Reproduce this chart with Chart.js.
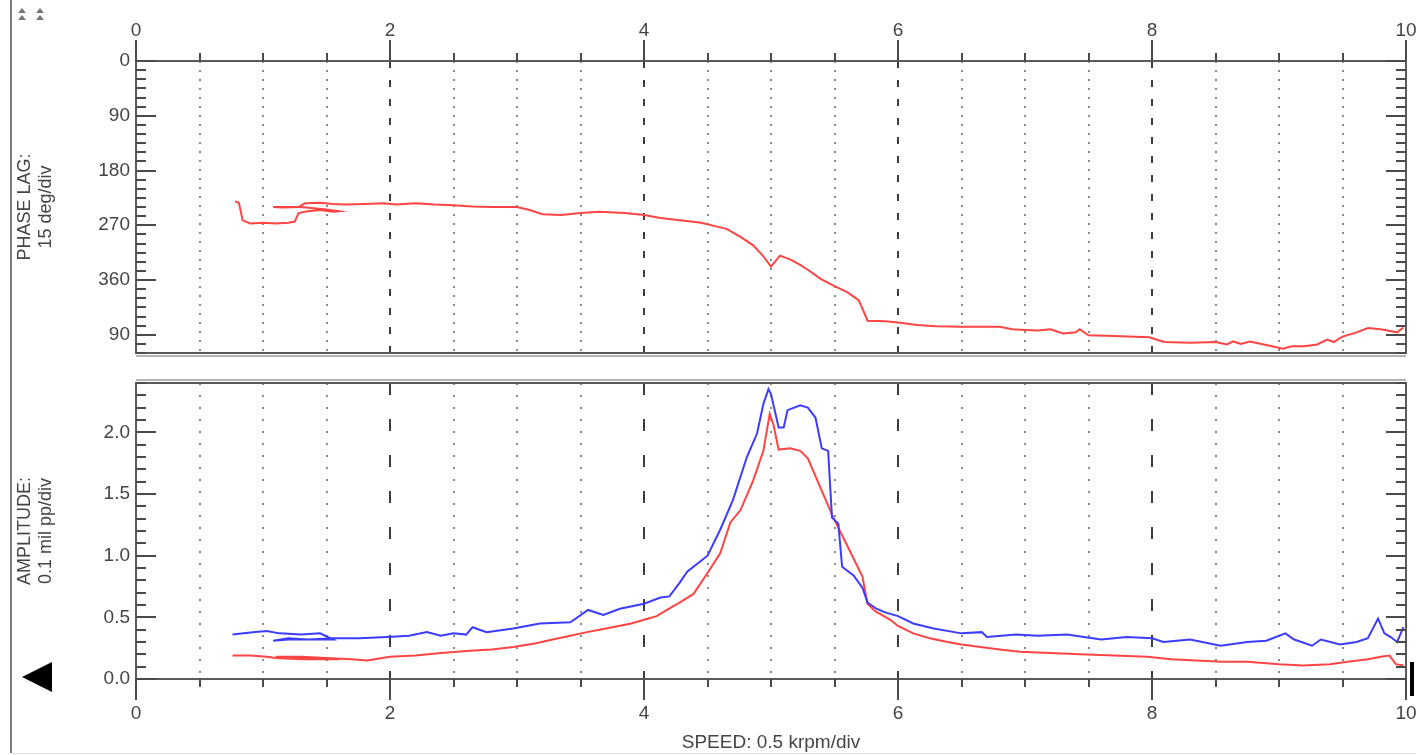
<!DOCTYPE html>
<html>
<head>
<meta charset="utf-8">
<title>Bode plot</title>
<script src="https://cdn.jsdelivr.net/npm/chart.js@4.4.1/dist/chart.umd.min.js"></script>
<style>
  html, body { margin: 0; padding: 0; background: #fff; }
  #wrap { position: relative; width: 1416px; height: 755px; overflow: hidden; background: #fff; }
  #wrap canvas { position: absolute; left: 0; }
  #phase-chart { top: 0; }
  #amp-chart { top: 368px; }
  .side-line { position: absolute; left: 10px; top: 0; width: 2px; height: 753px; background: #7c7c7c; }
  .bottom-line { position: absolute; left: 12px; top: 753px; width: 1404px; height: 1px; background: #e2e2e2; }
  .marker-left { position: absolute; left: 22px; top: 662px; width: 0; height: 0;
    border-top: 15px solid transparent; border-bottom: 15px solid transparent; border-right: 30px solid #000; }
  .marker-right { position: absolute; left: 1410px; top: 662px; width: 4px; height: 34px; background: #000; }
</style>
</head>
<body>
<div id="wrap">
  <canvas id="phase-chart" width="1416" height="368"></canvas>
  <canvas id="amp-chart" width="1416" height="387"></canvas>
  <div class="side-line"></div>
  <div class="bottom-line"></div>
  <div class="marker-left"></div>
  <div class="marker-right"></div>
</div>
<script>
// speed axis (krpm)
const speedMin = 0;
const speedMax = 10;
const speedDiv = 0.5;
const speedLabels = [0, 2, 4, 6, 8, 10];

// phase lag axis (deg, 15 deg/div, drawn downward)
const phaseMax = 480;
const phaseTicks = [0, 90, 180, 270, 360, 450];
const phaseTickLabels = ['0', '90', '180', '270', '360', '90'];

// amplitude axis (mil pp, 0.1 mil/div)
const ampMax = 2.4;
const ampTicks = [0, 0.5, 1.0, 1.5, 2.0];

// phase lag trace (red)
const phaseSpeed = [0.78, 0.81, 0.84, 0.90, 1.00, 1.10, 1.20, 1.25, 1.28, 1.35, 1.45, 1.55, 1.60, 1.50, 1.40, 1.29, 1.08, 1.15, 1.28, 1.33,
  1.45, 1.55, 1.65, 1.80, 1.95, 2.05, 2.20, 2.35, 2.50, 2.65, 2.80, 3.00, 3.10, 3.20, 3.35, 3.50, 3.65, 3.85, 4.00, 4.13,
  4.30, 4.45, 4.55, 4.65, 4.76, 4.86, 4.94, 5.00, 5.07, 5.15, 5.23, 5.31, 5.39, 5.50, 5.60, 5.69, 5.72, 5.76, 5.90, 6.00,
  6.15, 6.30, 6.50, 6.80, 6.90, 7.00, 7.10, 7.20, 7.30, 7.40, 7.43, 7.50, 7.70, 7.98, 8.05, 8.10, 8.30, 8.50, 8.59, 8.64,
  8.70, 8.77, 8.90, 9.03, 9.10, 9.20, 9.30, 9.38, 9.43, 9.50, 9.60, 9.70, 9.80, 9.93, 9.98];
const phaseLag = [231, 233, 262, 267, 266, 267, 266, 264, 250, 247, 245, 248, 247, 244, 242, 240, 240, 241, 240, 234,
  233, 235, 236, 235, 234, 236, 234, 236, 237, 239, 240, 240, 245, 252, 253, 250, 248, 250, 253, 258,
  262, 266, 271, 276, 289, 303, 321, 338, 320, 326, 335, 346, 358, 370, 380, 393, 407, 427, 428, 430,
  434, 436, 437, 437, 441, 442, 443, 441, 448, 446, 441, 451, 452, 454, 459, 462, 463, 462, 466, 461,
  465, 461, 467, 473, 469, 469, 466, 458, 462, 453, 447, 439, 441, 446, 438];

// amplitude, red trace
const redSpeed = [0.76, 0.90, 1.03, 1.10, 1.30, 1.60, 1.40, 1.20, 1.10, 1.30, 1.50, 1.70, 1.82, 2.00, 2.20, 2.40, 2.63, 2.80, 2.97, 3.15,
  3.28, 3.42, 3.55, 3.65, 3.80, 3.90, 4.00, 4.10, 4.18, 4.28, 4.39, 4.50, 4.60, 4.68, 4.76, 4.86, 4.94, 4.99, 5.02, 5.06,
  5.15, 5.23, 5.29, 5.39, 5.49, 5.62, 5.72, 5.76, 5.82, 5.94, 6.00, 6.12, 6.25, 6.39, 6.50, 6.65, 6.80, 6.96, 7.20, 7.43,
  7.70, 7.96, 8.15, 8.35, 8.55, 8.75, 9.00, 9.19, 9.40, 9.54, 9.70, 9.80, 9.87, 9.92, 9.98];
const redAmp = [0.19, 0.19, 0.18, 0.17, 0.16, 0.16, 0.17, 0.17, 0.18, 0.18, 0.17, 0.16, 0.15, 0.18, 0.19, 0.21, 0.23, 0.24, 0.26, 0.29,
  0.32, 0.35, 0.38, 0.40, 0.43, 0.45, 0.48, 0.51, 0.56, 0.62, 0.69, 0.86, 1.02, 1.27, 1.37, 1.61, 1.85, 2.15, 2.06, 1.86,
  1.87, 1.85, 1.79, 1.55, 1.31, 1.04, 0.83, 0.61, 0.55, 0.48, 0.43, 0.37, 0.33, 0.30, 0.28, 0.26, 0.24, 0.22, 0.21, 0.20,
  0.19, 0.18, 0.16, 0.15, 0.14, 0.14, 0.12, 0.11, 0.12, 0.14, 0.16, 0.18, 0.19, 0.12, 0.11];

// amplitude, blue trace
const blueSpeed = [0.76, 0.92, 1.03, 1.13, 1.30, 1.45, 1.55, 1.40, 1.20, 1.08, 1.20, 1.35, 1.55, 1.76, 1.98, 2.15, 2.29, 2.40, 2.50, 2.60,
  2.65, 2.76, 2.97, 3.18, 3.42, 3.56, 3.68, 3.81, 4.00, 4.13, 4.20, 4.28, 4.34, 4.44, 4.50, 4.60, 4.70, 4.81, 4.89, 4.94,
  4.98, 5.00, 5.06, 5.10, 5.13, 5.23, 5.29, 5.35, 5.40, 5.45, 5.48, 5.53, 5.56, 5.65, 5.72, 5.76, 5.83, 5.90, 6.00, 6.12,
  6.28, 6.50, 6.66, 6.70, 6.93, 7.10, 7.33, 7.60, 7.80, 8.00, 8.09, 8.30, 8.54, 8.75, 8.90, 9.05, 9.12, 9.26, 9.33, 9.48,
  9.61, 9.70, 9.78, 9.83, 9.88, 9.93, 9.98];
const blueAmp = [0.36, 0.38, 0.39, 0.37, 0.36, 0.37, 0.32, 0.32, 0.32, 0.31, 0.33, 0.32, 0.33, 0.33, 0.34, 0.35, 0.38, 0.35, 0.37, 0.36,
  0.42, 0.38, 0.41, 0.45, 0.46, 0.56, 0.52, 0.57, 0.61, 0.66, 0.67, 0.78, 0.87, 0.95, 1.00, 1.21, 1.45, 1.80, 1.99, 2.23,
  2.35, 2.31, 2.04, 2.04, 2.18, 2.22, 2.20, 2.12, 1.87, 1.85, 1.31, 1.26, 0.91, 0.84, 0.74, 0.62, 0.57, 0.54, 0.51, 0.45,
  0.41, 0.37, 0.38, 0.34, 0.36, 0.35, 0.36, 0.32, 0.34, 0.33, 0.30, 0.32, 0.27, 0.30, 0.31, 0.37, 0.32, 0.27, 0.32, 0.28,
  0.30, 0.33, 0.49, 0.37, 0.34, 0.30, 0.42];

const FONT = "'Liberation Sans', Arial, sans-serif";
const TEXT_COLOR = '#454545';

const toPoints = (xs, ys) => xs.map((x, i) => ({ x: x, y: ys[i] }));
const isMajorSpeed = v => speedLabels.some(s => Math.abs(s - v) < 1e-6);
const isEdgeSpeed = v => Math.abs(v - speedMin) < 1e-6 || Math.abs(v - speedMax) < 1e-6;

function speedTickList() {
  const n = Math.round((speedMax - speedMin) / speedDiv);
  const out = [];
  for (let i = 0; i <= n; i++) out.push({ value: +(speedMin + i * speedDiv).toFixed(2) });
  return out;
}

// frame, inward y ticks, outward speed ticks, small panel marks
const axisDeco = {
  id: 'axisDeco',
  afterDraw(chart, args, opts) {
    const { ctx, chartArea: a, scales } = chart;
    const x = scales.x, y = scales.y;
    ctx.save();
    ctx.strokeStyle = '#5a5a5a';
    ctx.lineWidth = 2;
    ctx.beginPath();
    ctx.rect(a.left, a.top, a.right - a.left, a.bottom - a.top);
    ctx.stroke();

    // second, lighter edge between the two panels
    ctx.strokeStyle = '#9a9a9a';
    ctx.lineWidth = 1.5;
    ctx.beginPath();
    const ey = opts.side === 'top' ? a.bottom + 3 : a.top - 3;
    ctx.moveTo(a.left, ey);
    ctx.lineTo(a.right, ey);
    ctx.stroke();

    ctx.strokeStyle = '#4a4a4a';
    ctx.lineWidth = 2;
    ctx.beginPath();
    const ny = Math.round((y.max - y.min) / opts.yMinor);
    for (let i = 0; i <= ny; i++) {
      const v = y.min + i * opts.yMinor;
      const py = Math.round(y.getPixelForValue(v));
      const major = i % opts.yMajorEvery === 0;
      const len = major ? 20 : 10;
      ctx.moveTo(a.left, py); ctx.lineTo(a.left + len, py);
      ctx.moveTo(a.right, py); ctx.lineTo(a.right - len, py);
    }
    const edge = opts.side === 'top' ? a.top : a.bottom;
    const dir = opts.side === 'top' ? -1 : 1;
    speedTickList().forEach(t => {
      const px = Math.round(x.getPixelForValue(t.value));
      const len = isMajorSpeed(t.value) ? 21 : 8;
      ctx.moveTo(px, edge); ctx.lineTo(px, edge + dir * len);
    });
    ctx.stroke();

    if (opts.side === 'top') {
      // two small scroll marks in the corner
      ctx.fillStyle = '#777';
      [22, 40].forEach(cx => {
        [8, 15].forEach(ty => {
          ctx.beginPath();
          ctx.moveTo(cx - 4, ty + 5);
          ctx.lineTo(cx + 4, ty + 5);
          ctx.lineTo(cx, ty);
          ctx.closePath();
          ctx.fill();
        });
      });
    }
    ctx.restore();
  }
};

function speedScale(position, dashMajor, dashMinor, padding, withTitle) {
  return {
    type: 'linear',
    position: position,
    min: speedMin,
    max: speedMax,
    afterBuildTicks: s => { s.ticks = speedTickList(); },
    afterFit: s => {
      s.height = position === 'top' ? 61 : 76;
      s.paddingLeft = 0; s.paddingRight = 0;
    },
    ticks: {
      autoSkip: false,
      maxRotation: 0,
      padding: padding,
      color: TEXT_COLOR,
      font: { family: FONT, size: 19 },
      callback: v => (isMajorSpeed(v) ? String(Math.round(v)) : '')
    },
    grid: {
      drawTicks: false,
      color: c => (isMajorSpeed(c.tick.value) ? '#3c3c3c' : '#8a8a8a'),
      lineWidth: c => (isEdgeSpeed(c.tick.value) ? 0 : 2)
    },
    border: {
      display: false,
      dash: c => (c.tick ? (isMajorSpeed(c.tick.value) ? dashMajor : dashMinor) : [])
    },
    title: {
      display: withTitle,
      text: 'SPEED: 0.5 krpm/div',
      color: TEXT_COLOR,
      font: { family: FONT, size: 19 },
      padding: { top: 0, bottom: 1 }
    }
  };
}

function valueScale(min, max, ticks, labels, reverse, title) {
  return {
    type: 'linear',
    position: 'left',
    min: min,
    max: max,
    reverse: reverse,
    afterBuildTicks: s => { s.ticks = ticks.map(v => ({ value: v })); },
    afterFit: s => { s.width = 136; s.paddingTop = 0; s.paddingBottom = 0; },
    ticks: {
      autoSkip: false,
      padding: 6,
      color: TEXT_COLOR,
      font: { family: FONT, size: 19 },
      callback: (v, i) => labels[i]
    },
    grid: { display: false, drawTicks: false },
    border: { display: false },
    title: {
      display: true,
      text: title,
      color: TEXT_COLOR,
      font: { family: FONT, size: 18, lineHeight: 1.15 },
      padding: { top: 15, bottom: 0 }
    }
  };
}

const common = {
  responsive: false,
  animation: false,
  events: [],
  plugins: { legend: { display: false }, tooltip: { enabled: false } },
  elements: { point: { radius: 0 }, line: { tension: 0, borderWidth: 2 } }
};

new Chart(document.getElementById('phase-chart').getContext('2d'), {
  type: 'line',
  data: {
    datasets: [{
      label: 'Phase lag',
      data: toPoints(phaseSpeed, phaseLag),
      borderColor: '#ff4444'
    }]
  },
  options: Object.assign({}, common, {
    layout: { padding: { left: 0, right: 10, top: 0, bottom: 15 } },
    scales: {
      x: speedScale('top', [7, 12], [2, 7], 19, false),
      y: valueScale(0, phaseMax, phaseTicks, phaseTickLabels, true, ['PHASE LAG:', '15 deg/div'])
    },
    plugins: Object.assign({}, common.plugins, {
      axisDeco: { side: 'top', yMinor: 15, yMajorEvery: 6 }
    })
  }),
  plugins: [axisDeco]
});

new Chart(document.getElementById('amp-chart').getContext('2d'), {
  type: 'line',
  data: {
    datasets: [
      { label: 'Amplitude 1', data: toPoints(blueSpeed, blueAmp), borderColor: '#3c3cff' },
      { label: 'Amplitude 2', data: toPoints(redSpeed, redAmp), borderColor: '#ff4444' }
    ]
  },
  options: Object.assign({}, common, {
    layout: { padding: { left: 0, right: 10, top: 15, bottom: 0 } },
    scales: {
      x: speedScale('bottom', [12, 24], [2, 10], 23, true),
      y: valueScale(0, ampMax, ampTicks, ampTicks.map(v => v.toFixed(1)), false, ['AMPLITUDE:', '0.1 mil pp/div'])
    },
    plugins: Object.assign({}, common.plugins, {
      axisDeco: { side: 'bottom', yMinor: 0.1, yMajorEvery: 5 }
    })
  }),
  plugins: [axisDeco]
});
</script>
</body>
</html>
